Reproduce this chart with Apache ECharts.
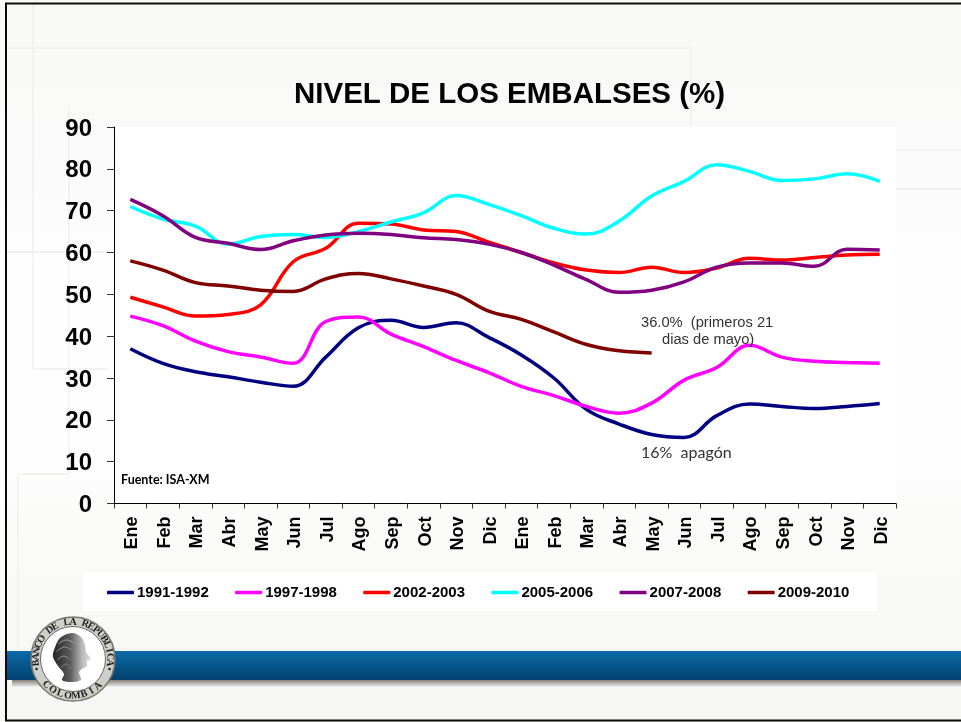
<!DOCTYPE html>
<html>
<head>
<meta charset="utf-8">
<title>Nivel de los embalses</title>
<script src="https://cdn.jsdelivr.net/npm/echarts@6/dist/echarts.min.js"></script>
<style>
  html, body { margin: 0; padding: 0; background: #f8f8f7; }
  #chart { width: 961px; height: 722px; }
</style>
</head>
<body>
<div id="chart"></div>
<script>
const months = ['Ene', 'Feb', 'Mar', 'Abr', 'May', 'Jun', 'Jul', 'Ago', 'Sep', 'Oct', 'Nov', 'Dic',
  'Ene', 'Feb', 'Mar', 'Abr', 'May', 'Jun', 'Jul', 'Ago', 'Sep', 'Oct', 'Nov', 'Dic']
const yTicks = [0, 10, 20, 30, 40, 50, 60, 70, 80, 90]

const s1991 = [37, 33.5, 31.5, 30.3, 29, 28, 35, 42, 43.8, 42.1, 43.2, 39.7, 35.5, 30, 22.5, 19, 16.5, 15.8, 21, 23.8, 23.2, 22.7, 23.2, 23.9]
const s1997 = [44.8, 42.5, 38.8, 36.3, 35, 33.5, 43.5, 44.6, 40.5, 37.5, 34.2, 31.3, 28, 25.8, 23.2, 21.6, 24, 29.5, 32.5, 37.8, 35, 34, 33.7, 33.5]
const s2002 = [49.3, 47, 44.8, 45.2, 47.5, 57.8, 61, 67, 66.8, 65.4, 65, 62.5, 60, 57.5, 55.8, 55.2, 56.5, 55.2, 56.3, 58.6, 58.2, 58.8, 59.4, 59.6]
const s2005 = [71, 68, 66.3, 62, 63.8, 64.3, 63.6, 65, 67.3, 69.5, 73.6, 71.5, 68.8, 65.8, 64.4, 67.5, 73.5, 77, 81, 79.4, 77.2, 77.6, 78.8, 77]
const s2007 = [72.7, 68.8, 63.6, 62.2, 60.7, 62.8, 64.2, 64.6, 64.3, 63.5, 63.1, 62, 60, 57, 53.5, 50.5, 51, 53, 56.5, 57.5, 57.5, 56.7, 60.8, 60.6]
const s2009 = [58, 55.8, 52.8, 52, 51, 50.7, 53.7, 55, 53.7, 52, 50, 46, 44, 41, 38, 36.5, 36]

const seriesNames = ['1991-1992', '1997-1998', '2002-2003', '2005-2006', '2007-2008', '2009-2010']
const seriesValues = [s1991, s1997, s2002, s2005, s2007, s2009]
const seriesColors = ['#000080', '#ff00ff', '#ff0000', '#00ffff', '#800080', '#800000']

const fontMain = '"Liberation Sans", Arial, sans-serif'
const lineBg = '#efefee'

function bgLine (x1, y1, x2, y2) {
  return { type: 'line', z: -10, silent: true, shape: { x1, y1, x2, y2 }, style: { stroke: lineBg, lineWidth: 1.5 } }
}

// letras del sello, una por una sobre el anillo
function sealLetters (text, cx, cy, r, startDeg, stepDeg, bottom) {
  return text.split('').map(function (ch, i) {
    const a = (startDeg + i * stepDeg) * Math.PI / 180
    return {
      type: 'text',
      z: 22,
      x: cx + r * Math.cos(a),
      y: cy + r * Math.sin(a),
      rotation: bottom ? -(a - Math.PI / 2) : -(a + Math.PI / 2),
      style: { text: ch, fill: '#1d1d1d', font: 'bold 10px "Liberation Serif", serif', textAlign: 'center', textVerticalAlign: 'middle' }
    }
  })
}

function hairStroke (points, color) {
  return { type: 'polyline', z: 23, silent: true, shape: { points: points, smooth: 0.4 }, style: { stroke: color, lineWidth: 1, fill: 'none' } }
}

const sealX = 73
const sealY = 659

const graphics = [
  bgLine(33, 4, 33, 107),
  bgLine(7, 48, 691, 48),
  bgLine(691, 48, 691, 127),
  bgLine(896, 150, 961, 150),
  bgLine(896, 189, 961, 189),
  bgLine(7, 252, 108, 252),
  bgLine(69, 107, 69, 474),
  bgLine(33, 107, 33, 369),
  bgLine(33, 369, 108, 369),
  bgLine(18, 474, 69, 474),
  bgLine(18, 474, 18, 650),
  // leyenda
  { type: 'rect', z: -5, silent: true, shape: { x: 83, y: 572, width: 794, height: 39 }, style: { fill: '#fff' } },
  // franja azul y sombra
  {
    type: 'rect', z: 20, silent: true, shape: { x: 12, y: 680, width: 949, height: 7 },
    style: { fill: new echarts.graphic.LinearGradient(0, 0, 0, 1, [{ offset: 0, color: '#85817a' }, { offset: 1, color: '#f0efec' }]) }
  },
  {
    type: 'rect', z: 20, silent: true, shape: { x: 5, y: 651, width: 956, height: 29 },
    style: { fill: new echarts.graphic.LinearGradient(0, 0, 0, 1, [{ offset: 0, color: '#0a6aa6' }, { offset: 1, color: '#03426f' }]) }
  },
  // marco
  { type: 'rect', z: 30, silent: true, shape: { x: 6, y: 3.5, width: 1000, height: 717 }, style: { fill: 'transparent', stroke: '#0a0a0a', lineWidth: 2 } },
  // sello
  { type: 'circle', z: 21, silent: true, shape: { cx: sealX, cy: sealY, r: 42 }, style: { fill: '#cfcfca', stroke: '#77776f', lineWidth: 1.5 } },
  { type: 'circle', z: 21, silent: true, shape: { cx: sealX, cy: sealY, r: 32.5 }, style: { fill: '#fff', stroke: '#666', lineWidth: 1 } },
  {
    type: 'polygon', z: 22, silent: true,
    shape: {
      smooth: 0.3,
      points: [[54, 650], [60, 638], [72, 633], [81, 637], [85, 645], [86, 652], [91, 659], [87, 661], [87, 666], [82, 669], [79, 672], [81, 680], [70, 682], [62, 680], [64, 674], [58, 666], [53, 657]]
    },
    style: { fill: new echarts.graphic.LinearGradient(0, 0, 1, 0, [{ offset: 0, color: '#262626' }, { offset: 0.45, color: '#5a5a5a' }, { offset: 0.75, color: '#b5b5b5' }, { offset: 1, color: '#e2e2e2' }]) }
  },
  hairStroke([[58, 644], [66, 640], [74, 643]], '#a5a5a5'),
  hairStroke([[56, 652], [64, 647], [72, 650]], '#959595'),
  hairStroke([[57, 660], [64, 656], [70, 660]], '#959595'),
  hairStroke([[61, 668], [66, 664], [71, 669]], '#808080'),
  { type: 'circle', z: 22, silent: true, shape: { cx: sealX - 36.5, cy: sealY + 10, r: 1.3 }, style: { fill: '#222' } },
  { type: 'circle', z: 22, silent: true, shape: { cx: sealX + 36.5, cy: sealY + 10, r: 1.3 }, style: { fill: '#222' } }
].concat(
  sealLetters('BANCO DE LA REPUBLICA', sealX, sealY, 37, -186, 9.6, false),
  sealLetters('COLOMBIA', sealX, sealY, 37, 136, -12.7, true),
  [
    // notas sobre el grafico
    { type: 'text', z: 40, x: 121, y: 473, style: { text: 'Fuente: ISA-XM', fill: '#000', font: 'bold 12.5px Lato, sans-serif' } },
    { type: 'text', z: 40, x: 641, y: 315, style: { text: '36.0%  (primeros 21', fill: '#333', font: '14.7px ' + fontMain } },
    { type: 'text', z: 40, x: 662, y: 332, style: { text: 'dias de mayo)', fill: '#333', font: '14.7px ' + fontMain } },
    { type: 'text', z: 40, x: 641, y: 445, style: { text: '16%  apagón', fill: '#333', font: '16px Lato, sans-serif' } }
  ]
)

const chart = echarts.init(document.getElementById('chart'))

chart.setOption({
  backgroundColor: new echarts.graphic.LinearGradient(0, 0, 0, 1, [
    { offset: 0, color: '#f8f8f6' },
    { offset: 0.2, color: '#fafafa' },
    { offset: 0.38, color: '#fefefe' },
    { offset: 0.62, color: '#fefefe' },
    { offset: 0.8, color: '#f9f9f8' },
    { offset: 1, color: '#f6f6f4' }
  ]),
  animation: false,
  title: {
    text: 'NIVEL DE LOS EMBALSES (%)',
    left: 294,
    top: 80,
    padding: 0,
    textStyle: { color: '#000', fontFamily: fontMain, fontWeight: 'bold', fontSize: 29.5 }
  },
  legend: {
    left: 107,
    top: 585,
    padding: 0,
    icon: 'roundRect',
    itemWidth: 27,
    itemHeight: 3.5,
    itemGap: 26.4,
    data: seriesNames,
    textStyle: { color: '#000', fontFamily: fontMain, fontWeight: 'bold', fontSize: 15, padding: [0, 0, 0, -2] }
  },
  grid: {
    show: true,
    left: 114,
    right: 65,
    top: 127,
    bottom: 218.5,
    backgroundColor: '#fff',
    borderWidth: 0
  },
  xAxis: {
    type: 'category',
    data: months,
    boundaryGap: true,
    axisLine: { lineStyle: { color: '#000', width: 1 } },
    axisTick: { show: true, alignWithLabel: false, length: 5, lineStyle: { color: '#333' } },
    axisLabel: {
      interval: 0,
      rotate: 90,
      margin: 13,
      formatter: '{m|{value}}',
      rich: {
        m: { color: '#000', fontFamily: fontMain, fontWeight: 'bold', fontSize: 18, padding: [4, 0, 0, 0] }
      }
    },
    splitLine: { show: false }
  },
  yAxis: {
    type: 'value',
    min: yTicks[0],
    max: yTicks[yTicks.length - 1],
    interval: 10,
    axisLine: { show: true, lineStyle: { color: '#000', width: 1 } },
    axisTick: { show: true, length: 7, lineStyle: { color: '#333' } },
    axisLabel: {
      margin: 22,
      formatter: '{n|{value}}',
      rich: {
        n: { color: '#000', fontFamily: fontMain, fontWeight: 'bold', fontSize: 24, padding: [4, 0, 0, 0] }
      }
    },
    splitLine: { show: false }
  },
  series: seriesNames.map(function (name, i) {
    return {
      name: name,
      type: 'line',
      data: seriesValues[i],
      smooth: 0.4,
      showSymbol: false,
      symbol: 'none',
      itemStyle: { color: seriesColors[i] },
      lineStyle: { color: seriesColors[i], width: 3.5 }
    }
  }),
  graphic: { elements: graphics }
})
</script>
</body>
</html>
